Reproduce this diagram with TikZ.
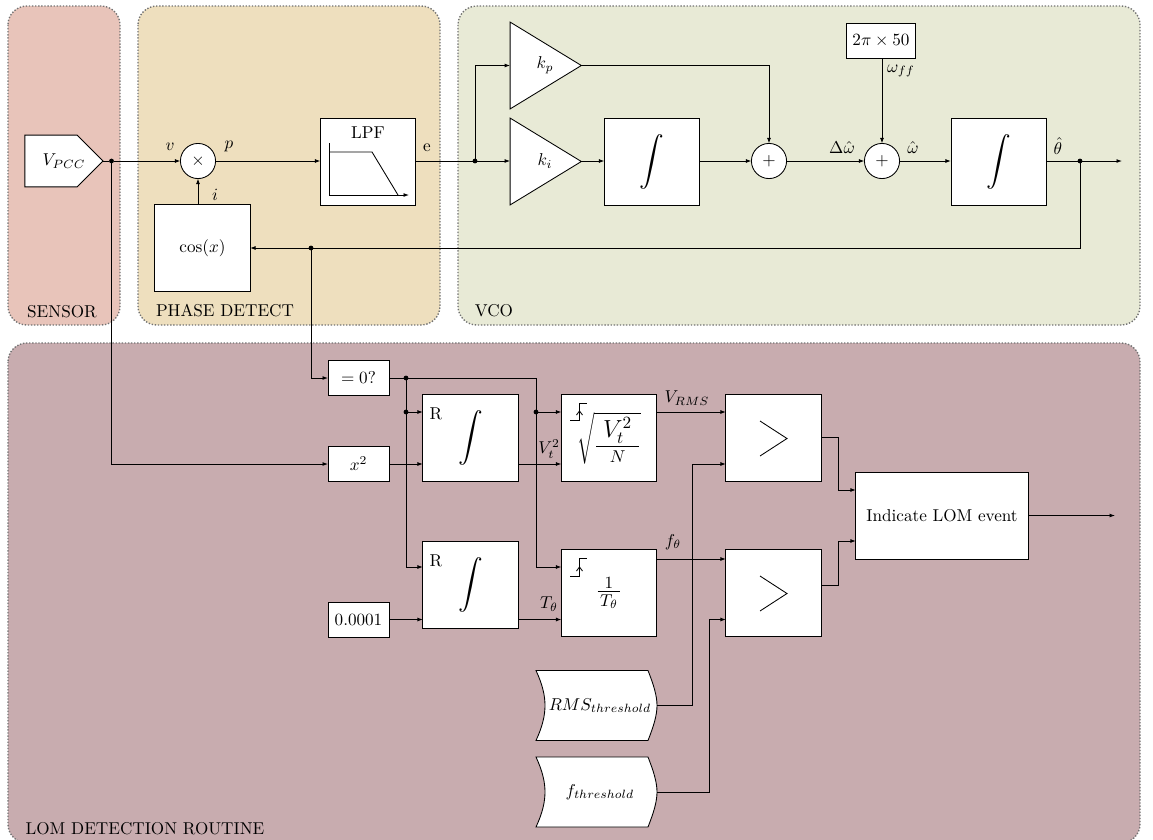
\documentclass[tikz,border=0pt]{standalone}
\usepackage{amsmath}
\usetikzlibrary{arrows.meta,shapes.geometric,shapes.symbols,calc}

\definecolor{sensorbg}{HTML}{E8C4BA}
\definecolor{phasebg}{HTML}{EEDFBE}
\definecolor{vcobg}{HTML}{E8EAD6}
\definecolor{lombg}{HTML}{C8ACAF}

\tikzset{
  >={Latex[length=3.2pt,width=2.3pt]},
  region/.style={draw=black!55, densely dotted, thick, rounded corners=11pt},
  regionname/.style={font=\normalsize},
  block/.style={draw, fill=white, minimum width=1.95cm, minimum height=1.78cm, inner sep=0pt, outer sep=0pt},
  smallblock/.style={draw, fill=white, minimum width=1.25cm, minimum height=0.72cm, inner sep=0pt, outer sep=0pt},
  sumnode/.style={draw, circle, fill=white, minimum size=0.72cm, inner sep=0pt, outer sep=0pt},
  gain/.style={draw, fill=white, isosceles triangle, isosceles triangle stretches, shape border rotate=0,
    minimum width=1.78cm, minimum height=1.46cm, inner sep=0pt, outer sep=0pt},
  junction/.style={circle, fill=black, minimum size=2.8pt, inner sep=0pt, outer sep=0pt},
  lbl/.style={inner sep=0pt, outer sep=0pt},
}

\newcommand{\threshbox}[3]{
  \draw[fill=white, shift={(596.5,#2)}] (-60.5,-35) -- (51.5,-35)
    .. controls (57,-21) and (60.5,-10) .. (60.5,0)
    .. controls (60.5,10) and (57,21) .. (51.5,35)
    -- (-60.5,35)
    .. controls (-54,21) and (-51.5,10) .. (-51.5,0)
    .. controls (-51.5,-10) and (-54,-21) .. (-60.5,-35) -- cycle;
  \node[lbl, minimum width=2.48cm, minimum height=1.43cm] (#1) at (596.5,#2) {\hspace*{4pt}#3};
}
\newcommand{\bigint}{{\Large$\displaystyle\int$}}

\begin{document}
\begin{tikzpicture}[x=0.0205cm, y=-0.0205cm, line width=0.5pt]
  \useasboundingbox (0,0) rectangle (1153,840);

  % regions
  \fill[sensorbg, region] (8,6) rectangle (120,325);
  \fill[phasebg, region] (138,6) rectangle (440,325);
  \fill[vcobg, region] (458,6) rectangle (1140,325);
  \fill[lombg, region] (8,343) rectangle (1140,843);
  \node[regionname] (namesensor) at (62,312) {SENSOR};
  \node[regionname] (namephase) at (225,311) {PHASE DETECT};
  \node[regionname] (namevco) at (494,311) {VCO};
  \node[regionname] (namelom) at (145,829) {LOM DETECTION ROUTINE};

  % upper row
  \node[draw, fill=white, signal, signal to=east, signal pointer angle=90, minimum width=1.6cm, minimum height=1.06cm,
    inner sep=0pt, outer sep=0pt] (vpcc) at (51,161) {};
  \node[lbl] (vpcclabel) at (64,161) {$V_{PCC}$};
  \node[junction] (jv) at (111.5,161) {};
  \node[sumnode] (mult) at (198,161) {$\times$};
  \node[block] (cosx) at (202.5,248) {$\cos(x)$};
  \node[block] (lpf) at (368,161.5) {};
  \node[junction] (je) at (475,161) {};
  \node[gain] (kp) at (534.5,65.5) {};
  \node[gain] (ki) at (534.5,161.5) {};
  \node[lbl] (kplabel) at (545,65) {$k_p$};
  \node[lbl] (kilabel) at (545,161) {$k_i$};
  \node[block] (intki) at (652,161.5) {\bigint};
  \node[sumnode] (sumkp) at (769,161) {$+$};
  \node[sumnode] (sumff) at (882,161) {$+$};
  \node[smallblock, minimum width=1.43cm] (ff) at (881,40.5) {$2\pi\times 50$};
  \node[block] (intw) at (998.5,161.5) {\bigint};
  \node[junction] (jth) at (1080,161) {};
  \node[junction] (jcos) at (311,248) {};
  \coordinate (thout) at (1122,161);

  % lower row
  \node[smallblock] (eqzero) at (358.5,378) {$=0?$};
  \node[smallblock] (sq) at (358.5,464) {$x^2$};
  \node[smallblock] (dt) at (358.5,619.5) {$0.0001$};
  \node[junction] (jr) at (406,378) {};
  \node[junction] (jra) at (406,412) {};
  \node[junction] (jrb) at (536,412) {};
  \node[block] (intv) at (470.5,438) {\bigint};
  \node[block] (intt) at (470.5,584.5) {\bigint};
  \node[lbl] (rv) at (436,414) {R};
  \node[lbl] (rt) at (436,561) {R};
  \node[block] (rms) at (609,438) {$\displaystyle\sqrt{\frac{\mbox{\Large\hspace{4pt}$V_t^2$\hspace{4pt}}}{N}}$};
  \node[block] (freq) at (609,593) {\Large$\frac{1}{\hspace{1.5pt}T_\theta\hspace{1.5pt}}$};
  \node[block] (cmpv) at (773.5,438) {};
  \node[block] (cmpf) at (773.5,593) {};
  \node[block, minimum width=3.53cm] (lom) at (942,515.5) {Indicate LOM event};
  \coordinate (lomout) at (1115,515.5);
  \threshbox{rmsth}{705.5}{$RMS_{threshold}$}
  \threshbox{fth}{792}{$f_{threshold}$}
  \coordinate (rmsbend) at (692,705.5);
  \coordinate (fbend) at (709,792);
  \coordinate (cmpvbend) at (838,437);
  \coordinate (cmpfbend) at (838,585);

  % glyphs drawn inside the blocks
  \node[lbl] (lpfname) at (368,133) {LPF};
  \draw[->] (329,143) -- (329,195) -- (409,195);
  \draw (329,152) -- (372,152) -- (398,195);
  \draw (760,421) -- (787,438.5) -- (760,456);
  \draw (760,576) -- (787,593.5) -- (760,611);
  \draw (570,420) -- (579.5,420) -- (579.5,403) -- (587,403);
  \draw (576.5,415) -- (579.5,411) -- (582.5,415);
  \draw (570,576) -- (579.5,576) -- (579.5,558) -- (587,558);
  \draw (576.5,571) -- (579.5,567) -- (582.5,571);

  % connectors
  \draw (vpcc.east) -- (jv);
  \draw[->] (jv) -- (mult);
  \draw[->] (mult) -- (lpf.west |- mult);
  \draw[->] (cosx.north -| mult) -- (mult);
  \draw (lpf.east |- je) -- (je);
  \draw[->] (je) -- (ki.west |- je);
  \draw[->] (je) |- (kp.west);
  \draw[->] (ki.east |- je) -- (intki.west |- je);
  \draw[->] (intki.east |- je) -- (sumkp);
  \draw[->] (kp.east) -| (sumkp);
  \draw[->] (sumkp) -- (sumff);
  \draw[->] (ff.south -| sumff) -- (sumff);
  \draw[->] (sumff) -- (intw.west |- sumff);
  \draw (intw.east |- sumff) -- (jth);
  \draw[->] (jth) -- (thout);
  \draw (jth) |- (jcos);
  \draw[->] (jcos) -- (cosx);
  \draw[->] (jv) |- (sq);
  \draw[->] (jcos) |- (eqzero);
  \draw (eqzero) -- (jr);
  \draw[->] (jr) -| (jrb) |- (freq.west |- 0,567);
  \draw[->] (jr) |- (intt.west |- 0,567);
  \draw[->] (jra) -- (intv.west |- jra);
  \draw[->] (jrb) -- (rms.west |- jrb);
  \draw[->] (sq) -- (intv.west |- sq);
  \draw[->] (intv.east |- sq) -- (rms.west |- sq);
  \draw[->] (dt) -- (intt.west |- dt);
  \draw[->] (intt.east |- dt) -- (freq.west |- dt);
  \draw[->] (rms.east |- jrb) -- (cmpv.west |- jrb);
  \draw[->] (freq.east |- 0,559) -- (cmpf.west |- 0,559);
  \draw[->] (rmsth.east) -- (rmsbend) |- (cmpv.west |- sq);
  \draw[->] (fth.east) -- (fbend) |- (cmpf.west |- dt);
  \draw[->] (cmpv.east |- cmpvbend) -- (cmpvbend) |- (lom.west |- 0,490);
  \draw[->] (cmpf.east |- cmpfbend) -- (cmpfbend) |- (lom.west |- 0,541);
  \draw[->] (lom) -- (lomout);

  % signal names
  \node[lbl] (lblv) at (170,147) {$v$};
  \node[lbl] (lblp) at (229,146) {$p$};
  \node[lbl] (lbli) at (215,195) {$i$};
  \node[lbl] (lble) at (427,148) {e};
  \node[lbl] (lbldw) at (842,148) {$\Delta\hat{\omega}$};
  \node[lbl] (lblw) at (913,148) {$\hat{\omega}$};
  \node[lbl] (lblff) at (901,71) {$\omega_{ff}$};
  \node[lbl] (lblth) at (1058,146) {$\hat{\theta}$};
  \node[lbl] (lblvt) at (549,449) {$V_t^2$};
  \node[lbl] (lblt) at (549,604) {$T_\theta$};
  \node[lbl] (lblrms) at (687,398) {$V_{RMS}$};
  \node[lbl] (lblf) at (673,542) {$f_\theta$};
\end{tikzpicture}
\end{document}
